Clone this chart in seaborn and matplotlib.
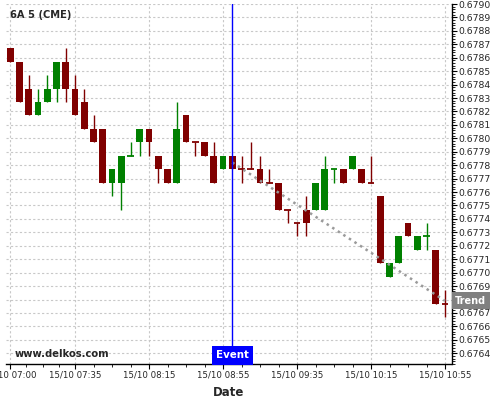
"""
6A 5 (CME) 五分钟K线图，带事件线和趋势线
"""
import pandas as pd
import matplotlib
matplotlib.use('Agg')
import matplotlib.pyplot as plt
import seaborn as sns
import numpy as np
from matplotlib.ticker import MultipleLocator, AutoMinorLocator, FixedLocator, FormatStrFormatter

sns.set_theme(style='ticks')
plt.rcParams['font.family'] = ['DejaVu Sans']

# K线数据（15/10 07:00 起，每5分钟一根）
opens = [0.67867, 0.67857, 0.67837, 0.67817, 0.67827, 0.67837, 0.67857, 0.67837,
         0.67827, 0.67807, 0.67807, 0.67767, 0.67767, 0.67787, 0.67797, 0.67807,
         0.67787, 0.67777, 0.67767, 0.67817, 0.67797, 0.67797, 0.67787, 0.67777,
         0.67787, 0.67777, 0.67777, 0.67777, 0.67767, 0.67767, 0.67747, 0.67737,
         0.67747, 0.67747, 0.67747, 0.67777, 0.67777, 0.67777, 0.67777, 0.67767,
         0.67757, 0.67697, 0.67707, 0.67737, 0.67717, 0.67727, 0.67717, 0.67677]
highs = [0.67867, 0.67857, 0.67847, 0.67837, 0.67847, 0.67857, 0.67867, 0.67847,
         0.67837, 0.67817, 0.67807, 0.67777, 0.67787, 0.67797, 0.67807, 0.67807,
         0.67787, 0.67777, 0.67827, 0.67817, 0.67797, 0.67797, 0.67797, 0.67787,
         0.67787, 0.67787, 0.67797, 0.67787, 0.67777, 0.67767, 0.67747, 0.67737,
         0.67757, 0.67767, 0.67787, 0.67777, 0.67777, 0.67787, 0.67777, 0.67787,
         0.67757, 0.67707, 0.67727, 0.67737, 0.67727, 0.67737, 0.67717, 0.67687]
lows = [0.67857, 0.67827, 0.67817, 0.67817, 0.67827, 0.67827, 0.67827, 0.67817,
        0.67807, 0.67797, 0.67767, 0.67757, 0.67747, 0.67787, 0.67787, 0.67787,
        0.67767, 0.67767, 0.67767, 0.67797, 0.67787, 0.67787, 0.67767, 0.67777,
        0.67777, 0.67767, 0.67777, 0.67767, 0.67767, 0.67747, 0.67737, 0.67727,
        0.67727, 0.67747, 0.67747, 0.67767, 0.67767, 0.67777, 0.67767, 0.67767,
        0.67707, 0.67697, 0.67707, 0.67727, 0.67717, 0.67717, 0.67677, 0.67667]
closes = [0.67857, 0.67827, 0.67817, 0.67827, 0.67837, 0.67857, 0.67837, 0.67817,
          0.67807, 0.67797, 0.67767, 0.67777, 0.67787, 0.67787, 0.67807, 0.67797,
          0.67777, 0.67767, 0.67807, 0.67797, 0.67797, 0.67787, 0.67767, 0.67787,
          0.67777, 0.67777, 0.67777, 0.67767, 0.67767, 0.67747, 0.67747, 0.67737,
          0.67737, 0.67767, 0.67777, 0.67777, 0.67767, 0.67787, 0.67767, 0.67767,
          0.67707, 0.67707, 0.67727, 0.67727, 0.67727, 0.67727, 0.67677, 0.67677]
# 十字星中为绿色的K线
doji_up = [13, 35, 45]

# 时间轴
times = pd.date_range('2015-10-15 07:00', periods=len(opens), freq='5min')
major_idx = [0, 7, 15, 23, 31, 39, 47]
event_idx = 24

# 趋势线
trend_idx = [24, 47]
trend_val = [0.67782, 0.67679]

df = pd.DataFrame({'open': opens, 'high': highs, 'low': lows, 'close': closes})
df['x'] = np.arange(len(df))
df['up'] = (df['close'] > df['open']) | df['x'].isin(doji_up)
df['color'] = np.where(df['up'], '#008000', '#800000')

fig = plt.figure(figsize=(5, 4), dpi=100)
ax = fig.add_axes([0.012, 0.09, 0.891, 0.9])

# 网格
ax.grid(True, which='major', linestyle=(0, (2, 2)), color='#c8c8c8', linewidth=0.8)
ax.set_axisbelow(True)

# 影线
ax.vlines(df['x'], df['low'], df['high'], colors=df['color'], linewidth=1, zorder=2)

# 实体
body = df[df['open'] != df['close']]
ax.bar(body['x'], (body['close'] - body['open']).abs(),
       bottom=body[['open', 'close']].min(axis=1), width=0.72,
       color=body['color'], linewidth=0, zorder=3)

# 十字星
doji = df[df['open'] == df['close']]
ax.hlines(doji['close'], doji['x'] - 0.36, doji['x'] + 0.36, colors=doji['color'],
          linewidth=1.3, zorder=3)

# 趋势线
sns.lineplot(x=trend_idx, y=trend_val, ax=ax, color='#9a9a9a', linestyle=':',
             linewidth=1.8, zorder=4)

# 事件线
ax.axvline(event_idx, color='#0000ff', linewidth=1, zorder=5)

ax.set_xlim(-0.46, 47.7)
ax.set_ylim(0.67632, 0.6790)

# 坐标轴
ax.yaxis.tick_right()
for s in ['left', 'top']:
    ax.spines[s].set_visible(False)
for s in ['right', 'bottom']:
    ax.spines[s].set_color('black')
    ax.spines[s].set_linewidth(1)

ax.yaxis.set_major_locator(MultipleLocator(0.0001))
ax.yaxis.set_minor_locator(AutoMinorLocator(5))
ax.yaxis.set_major_formatter(FormatStrFormatter('%.4f'))

ax.set_xticks(major_idx)
ax.set_xticklabels([times[i].strftime('%d/%m %H:%M') for i in major_idx])
minor = []
for a, b in zip(major_idx[:-1], major_idx[1:]):
    minor += [a + (b - a) * k / 4 for k in (1, 2, 3)]
ax.xaxis.set_minor_locator(FixedLocator(minor))

ax.tick_params(axis='both', which='major', direction='out', length=3.5, width=0.8,
               color='black', pad=1.5)
ax.tick_params(axis='both', which='minor', direction='out', length=2, width=0.6,
               color='black')
ax.tick_params(axis='y', labelsize=6.7)
ax.tick_params(axis='x', labelsize=6.2)

ax.set_xlabel('Date', fontsize=8.5, fontweight='bold', labelpad=4)
ax.set_ylabel('')

# 文字
ax.text(0.009, 0.969, '6A 5 (CME)', transform=ax.transAxes, fontsize=7.1,
        fontweight='bold', ha='left', va='center', zorder=6)
ax.text(0.02, 0.028, 'www.delkos.com', transform=ax.transAxes, fontsize=7.2,
        fontweight='bold', ha='left', va='center', zorder=6)

ax.annotate('Event', xy=(event_idx, 0), xycoords=('data', 'axes fraction'),
            xytext=(0, 2.6), textcoords='offset points', ha='center', va='bottom',
            fontsize=7.4, fontweight='bold', color='white', zorder=7,
            bbox=dict(boxstyle='square,pad=0.42', fc='#0000ff', ec='none'))

ax.annotate('Trend', xy=(1, trend_val[-1]), xycoords=('axes fraction', 'data'),
            xytext=(2.6, 0), textcoords='offset points', ha='left', va='center',
            fontsize=7.0, fontweight='bold', color='white', zorder=7,
            annotation_clip=False,
            bbox=dict(boxstyle='square,pad=0.36', fc='#808080', ec='none'))

plt.savefig('out.png', dpi=100)
